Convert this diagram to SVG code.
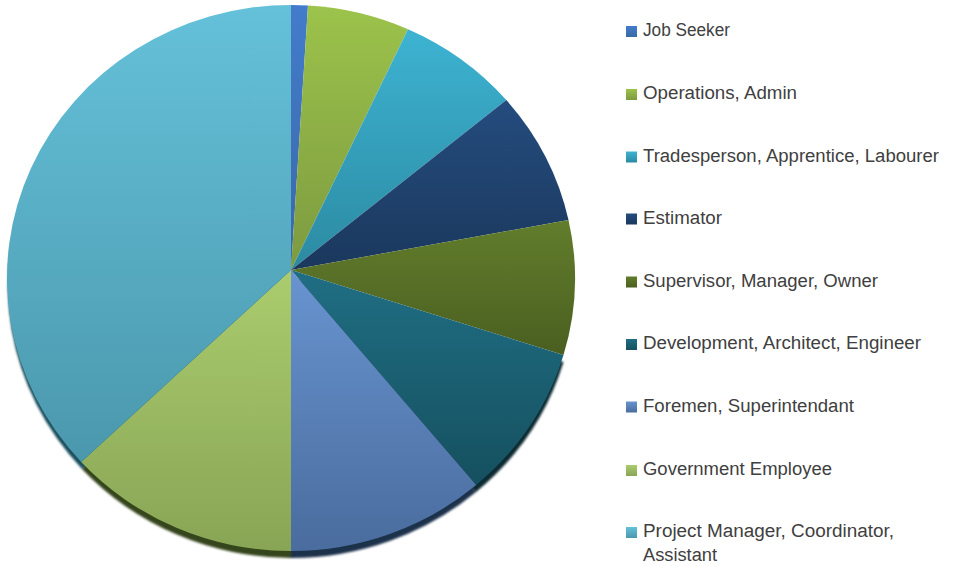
<svg xmlns="http://www.w3.org/2000/svg" width="958" height="566" viewBox="0 0 958 566">
<style>
.lg{font-family:"Liberation Sans",Arial,sans-serif;font-size:18px;fill:#404040}
.sh{stroke:none}
</style>
<defs>
<linearGradient id="gJob" x1="0" y1="0" x2="0" y2="1"><stop offset="0" stop-color="#437ccc"/><stop offset="1" stop-color="#3a68a6"/></linearGradient>
<linearGradient id="gOps" x1="0" y1="0" x2="0" y2="1"><stop offset="0" stop-color="#9cc34b"/><stop offset="1" stop-color="#7d9a40"/></linearGradient>
<linearGradient id="gTrade" x1="0" y1="0" x2="0" y2="1"><stop offset="0" stop-color="#3db3d2"/><stop offset="1" stop-color="#2c8aa2"/></linearGradient>
<linearGradient id="gEst" x1="0" y1="0" x2="0" y2="1"><stop offset="0" stop-color="#244c7e"/><stop offset="1" stop-color="#1b385d"/></linearGradient>
<linearGradient id="gSup" x1="0" y1="0" x2="0" y2="1"><stop offset="0" stop-color="#627d2c"/><stop offset="1" stop-color="#4a5f20"/></linearGradient>
<linearGradient id="gDev" x1="0" y1="0" x2="0" y2="1"><stop offset="0" stop-color="#206e84"/><stop offset="1" stop-color="#15505f"/></linearGradient>
<linearGradient id="gFor" x1="0" y1="0" x2="0" y2="1"><stop offset="0" stop-color="#6894d0"/><stop offset="1" stop-color="#4a6c9e"/></linearGradient>
<linearGradient id="gGov" x1="0" y1="0" x2="0" y2="1"><stop offset="0" stop-color="#abcc6e"/><stop offset="1" stop-color="#88a555"/></linearGradient>
<linearGradient id="gPM" x1="0" y1="0" x2="0" y2="1"><stop offset="0" stop-color="#64c1d9"/><stop offset="1" stop-color="#4b98ad"/></linearGradient>
<filter id="blur" x="-5%" y="-5%" width="110%" height="110%"><feGaussianBlur stdDeviation="1.2"/></filter>
</defs>

<g id="shadow" filter="url(#blur)">
<path class="sh" fill="#1a4f5e" d="M291,277 L82,469 A284 273 0 0 1 291,12 Z"/>
<path class="sh" fill="#34441c" d="M291,277 L291,558 A284 273 0 0 1 82,469 Z"/>
<path class="sh" fill="#1e304c" d="M291,277 L476,492 A284 273 0 0 1 291,558 Z"/>
<path class="sh" fill="#0b2a33" d="M291,277 L563.5,362 A284 273 0 0 1 476,492 Z"/>
</g>

<g id="slice-job-seeker"><path fill="url(#gJob)" d="M291,270 L291,5 A284 273 0 0 1 308,5.5 Z"/></g>
<g id="slice-operations"><path fill="url(#gOps)" d="M291,270 L308,5.5 A284 273 0 0 1 408,29.2 Z"/></g>
<g id="slice-tradesperson"><path fill="url(#gTrade)" d="M291,270 L408,29.2 A284 273 0 0 1 506.3,100 Z"/></g>
<g id="slice-estimator"><path fill="url(#gEst)" d="M291,270 L506.3,100 A284 273 0 0 1 568.5,220 Z"/></g>
<g id="slice-supervisor"><path fill="url(#gSup)" d="M291,270 L568.5,220 A284 273 0 0 1 563.5,355 Z"/></g>
<g id="slice-development"><path fill="url(#gDev)" d="M291,270 L563.5,355 A284 273 0 0 1 476.2,485 Z"/></g>
<g id="slice-foremen"><path fill="url(#gFor)" d="M291,270 L476.2,485 A284 273 0 0 1 291,551 Z"/></g>
<g id="slice-government"><path fill="url(#gGov)" d="M291,270 L291,551 A284 273 0 0 1 81.2,462 Z"/></g>
<g id="slice-project-manager"><path fill="url(#gPM)" d="M291,270 L81.2,462 A284 273 0 0 1 291,5 Z"/></g>

<g id="legend">
<g id="lg-job"><rect x="626" y="26" width="11" height="11" fill="url(#gJob)"/><text class="lg" x="643" y="36" textLength="87" lengthAdjust="spacingAndGlyphs">Job Seeker</text></g>
<g id="lg-ops"><rect x="626" y="89" width="11" height="11" fill="url(#gOps)"/><text class="lg" x="643" y="99" textLength="154" lengthAdjust="spacingAndGlyphs">Operations, Admin</text></g>
<g id="lg-trade"><rect x="626" y="151.5" width="11" height="11" fill="url(#gTrade)"/><text class="lg" x="643" y="161.5" textLength="296" lengthAdjust="spacingAndGlyphs">Tradesperson, Apprentice, Labourer</text></g>
<g id="lg-est"><rect x="626" y="213.5" width="11" height="11" fill="url(#gEst)"/><text class="lg" x="643" y="223.5" textLength="79" lengthAdjust="spacingAndGlyphs">Estimator</text></g>
<g id="lg-sup"><rect x="626" y="276.5" width="11" height="11" fill="url(#gSup)"/><text class="lg" x="643" y="286.5" textLength="235" lengthAdjust="spacingAndGlyphs">Supervisor, Manager, Owner</text></g>
<g id="lg-dev"><rect x="626" y="339" width="11" height="11" fill="url(#gDev)"/><text class="lg" x="643" y="349" textLength="278" lengthAdjust="spacingAndGlyphs">Development, Architect, Engineer</text></g>
<g id="lg-for"><rect x="626" y="401.5" width="11" height="11" fill="url(#gFor)"/><text class="lg" x="643" y="411.5" textLength="211" lengthAdjust="spacingAndGlyphs">Foremen, Superintendant</text></g>
<g id="lg-gov"><rect x="626" y="465" width="11" height="11" fill="url(#gGov)"/><text class="lg" x="643" y="475" textLength="189" lengthAdjust="spacingAndGlyphs">Government Employee</text></g>
<g id="lg-pm"><rect x="626" y="527" width="11" height="11" fill="url(#gPM)"/><text class="lg" x="643" y="537" textLength="251" lengthAdjust="spacingAndGlyphs">Project Manager, Coordinator,</text><text class="lg" x="643" y="561" textLength="74" lengthAdjust="spacingAndGlyphs">Assistant</text></g>
</g>
</svg>
